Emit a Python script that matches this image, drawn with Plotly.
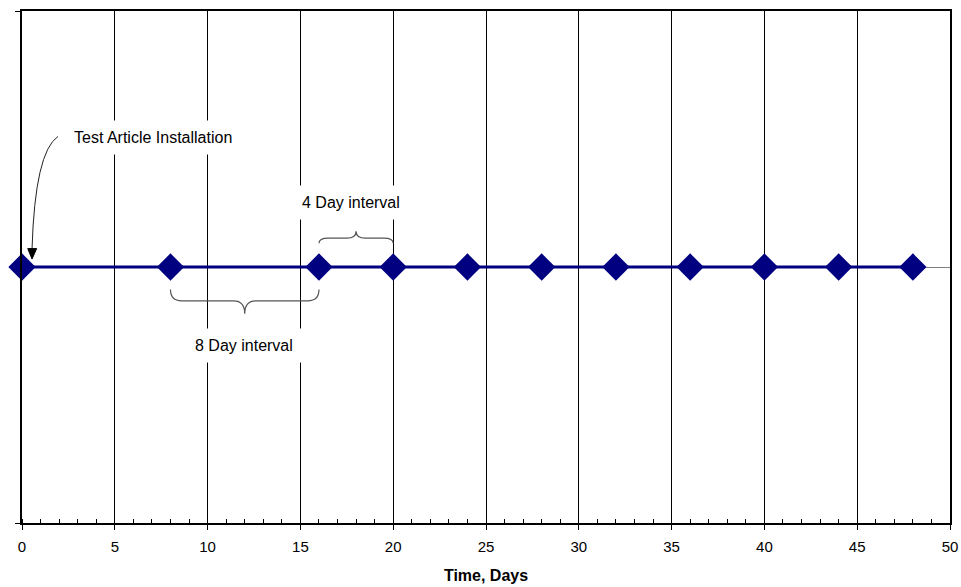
import plotly.graph_objects as go

# inspection days and the flat timeline level
days = [0, 8, 16, 20, 24, 28, 32, 36, 40, 44, 48]
level = [0, 0, 0, 0, 0, 0, 0, 0, 0, 0, 0]

x_ticks = [0, 5, 10, 15, 20, 25, 30, 35, 40, 45, 50]
x_range = [0, 50]
y_range = [-1, 1]

label_install = "Test Article Installation"
label_4day = "4 Day interval"
label_8day = "8 Day interval"

FONT = "Arial, Liberation Sans, sans-serif"
NAVY = "#000080"

fig = go.Figure()

fig.add_trace(
    go.Scatter(
        x=days,
        y=level,
        mode="lines+markers",
        line=dict(color=NAVY, width=3),
        marker=dict(symbol="diamond", size=21, color=NAVY),
        cliponaxis=False,
        showlegend=False,
        hoverinfo="skip",
    )
)

# curved arrow to the installation point
fig.add_shape(
    type="path",
    path="M 1.94,0.51 Q 0.70,0.45 0.54,0.07",
    line=dict(color="#222222", width=1),
    xref="x", yref="y",
)
fig.add_shape(
    type="path",
    path="M 0.54,0.031 L 0.31,0.072 L 0.79,0.072 Z",
    fillcolor="black",
    line=dict(color="black", width=1),
    xref="x", yref="y",
)

# 8 day brace (below the line, tip pointing down)
fig.add_shape(
    type="path",
    path=(
        "M 8,-0.088 Q 8,-0.132 8.6,-0.132 L 11.4,-0.132 "
        "Q 12,-0.132 12,-0.183 Q 12,-0.132 12.6,-0.132 "
        "L 15.4,-0.132 Q 16,-0.132 16,-0.088"
    ),
    line=dict(color="#555555", width=1.2),
    xref="x", yref="y",
)

# 4 day brace (above the line, tip pointing up)
fig.add_shape(
    type="path",
    path=(
        "M 16,0.093 Q 16,0.113 16.5,0.113 L 17.5,0.113 "
        "Q 18,0.113 18,0.140 Q 18,0.113 18.5,0.113 "
        "L 19.5,0.113 Q 20,0.113 20,0.093"
    ),
    line=dict(color="#555555", width=1.2),
    xref="x", yref="y",
)

for text, x, y in [
    (label_install, 7.05, 0.506),
    (label_4day, 17.75, 0.253),
    (label_8day, 11.95, -0.307),
]:
    fig.add_annotation(
        x=x, y=y, text=text, showarrow=False,
        font=dict(family=FONT, size=16, color="black"),
        bgcolor="white", borderpad=8,
    )

fig.update_xaxes(
    range=x_range,
    tickvals=x_ticks,
    ticks="outside",
    ticklen=5,
    tickcolor="black",
    ticklabelstandoff=4,
    tickfont=dict(family=FONT, size=15, color="black"),
    showgrid=True,
    gridcolor="black",
    gridwidth=1,
    showline=True,
    linecolor="black",
    linewidth=2,
    mirror=True,
    zeroline=False,
    minor=dict(dtick=1, ticks="inside", ticklen=4, tickcolor="black", showgrid=False),
    title=dict(
        text="<b>Time, Days</b>",
        font=dict(family=FONT, size=16, color="black"),
        standoff=16,
    ),
)

fig.update_yaxes(
    range=y_range,
    tickvals=[-1, 1],
    showticklabels=False,
    ticks="outside",
    ticklen=5,
    tickcolor="black",
    showgrid=False,
    showline=True,
    linecolor="black",
    linewidth=2,
    mirror=True,
    zeroline=True,
    zerolinecolor="#808080",
    zerolinewidth=1,
)

# the page body adds an 8px offset, so the figure is sized to fit after it
fig.update_layout(
    width=953,
    height=579,
    margin=dict(l=14, r=11, t=1, b=64),
    paper_bgcolor="white",
    plot_bgcolor="white",
    font=dict(family=FONT),
)

page_fix = (
    "document.body.style.width = '953px';"
    "document.body.style.height = '579px';"
    "document.documentElement.style.overflow = 'hidden';"
)
fig.write_html(
    "out.html",
    post_script=page_fix,
    config={"displayModeBar": False},
)
